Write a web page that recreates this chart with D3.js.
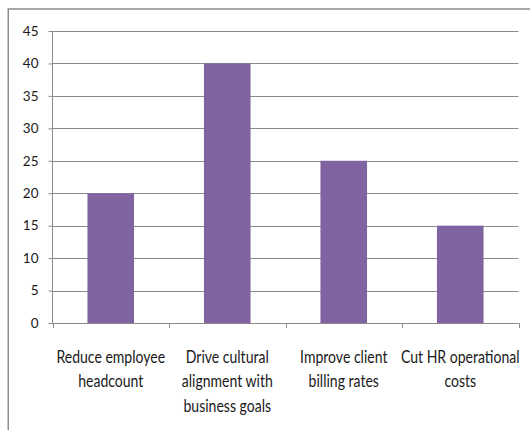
<!DOCTYPE html>
<html>
<head>
<meta charset="utf-8">
<script src="https://cdn.jsdelivr.net/npm/d3@7"></script>
<style>
  html, body { margin: 0; padding: 0; background: #fff; }
  svg { display: block; }
</style>
</head>
<body>
<svg id="chart" width="530" height="430"></svg>
<script>
const categories = [
  ["Reduce employee", "headcount"],
  ["Drive cultural", "alignment with", "business goals"],
  ["Improve client", "billing rates"],
  ["Cut HR operational", "costs"]
];
const values = [20, 40, 25, 15];
const yTicks = [0, 5, 10, 15, 20, 25, 30, 35, 40, 45];

const svg = d3.select("#chart");
const W = 530, H = 430;
const mLeft = 52.5, mRight = 518.5, mTop = 31, mBottom = 323;
const gridColor = "#8a8a8a";
const barColor = "#8064A2";

// frame
svg.append("path")
  .attr("d", `M8.25,${H} L8.25,9 L${W},9`)
  .attr("fill", "none").attr("stroke", "#8c8c8c").attr("stroke-width", 1.5);

const idx = categories.map((d, i) => i);
const x = d3.scaleBand().domain(idx).range([mLeft, mRight]).paddingInner(0.6).paddingOuter(0.3);
const y = d3.scaleLinear().domain([0, 45]).range([mBottom, mTop]);

// gridlines
svg.append("g").selectAll("line").data(yTicks.filter(t => t > 0)).join("line")
  .attr("x1", mLeft).attr("x2", mRight)
  .attr("y1", d => Math.round(y(d)) + 0.5).attr("y2", d => Math.round(y(d)) + 0.5)
  .attr("stroke", gridColor).attr("stroke-width", 1);

// y axis
const yAxis = svg.append("g").attr("transform", `translate(${mLeft},0)`)
  .call(d3.axisLeft(y).tickValues(yTicks).tickSize(4).tickPadding(10));
yAxis.select(".domain").attr("stroke", gridColor).attr("d", `M0,${mTop}V${mBottom}`);
yAxis.selectAll(".tick line").attr("stroke", gridColor);
yAxis.selectAll(".tick text").attr("font-family", "Lato").attr("font-size", 13.5).attr("fill", "#1a1a1a");

// bars
svg.append("g").selectAll("rect").data(values).join("rect")
  .attr("x", (d, i) => x(i)).attr("width", x.bandwidth())
  .attr("y", d => y(d)).attr("height", d => y(0) - y(d))
  .attr("fill", barColor);

// x axis
const step = x.step();
const bounds = [0, 1, 2, 3, 4].map(i => mLeft + i * step);
svg.append("line").attr("x1", mLeft).attr("x2", mRight)
  .attr("y1", mBottom + 0.5).attr("y2", mBottom + 0.5).attr("stroke", gridColor);
svg.append("g").selectAll("line").data(bounds).join("line")
  .attr("x1", d => Math.round(d) + 0.5).attr("x2", d => Math.round(d) + 0.5)
  .attr("y1", mBottom).attr("y2", mBottom + 5).attr("stroke", gridColor);

// category labels
const lab = svg.append("g");
categories.forEach((lines, i) => {
  const cx = x(i) + x.bandwidth() / 2;
  const g = lab.append("g").attr("transform", `translate(${cx},0) scale(0.78,1)`);
  lines.forEach((t, j) => {
    g.append("text").attr("x", 0).attr("y", 363 + j * 24.5)
      .attr("text-anchor", "middle")
      .attr("font-family", "Lato").attr("font-size", 18).attr("fill", "#1a1a1a")
      .text(t);
  });
});
</script>
</body>
</html>
